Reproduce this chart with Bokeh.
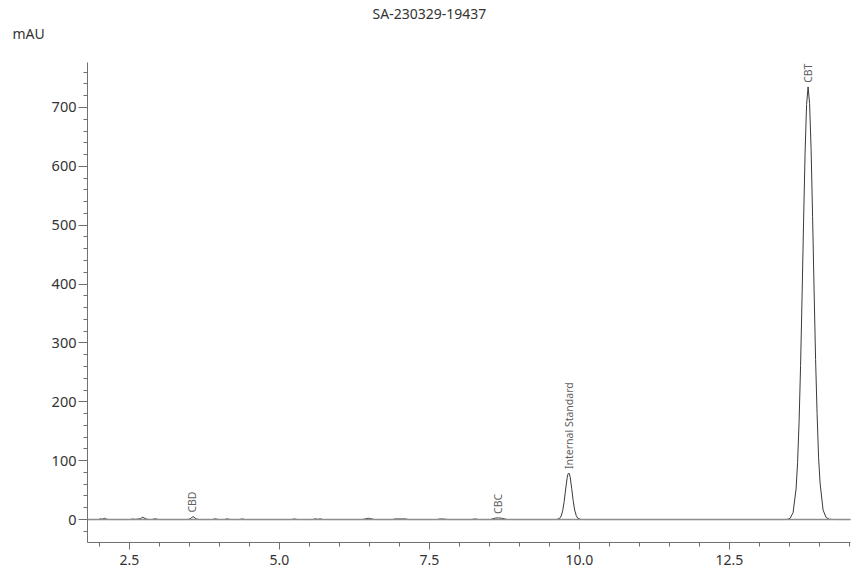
from bokeh.plotting import figure
from bokeh.models import Range1d, SingleIntervalTicker, Span, Title, ColumnDataSource, NumeralTickFormatter
from bokeh.core.properties import value
from bokeh.embed import file_html
from bokeh.resources import INLINE
import math

# ---- data ----
chart_title = "SA-230329-19437"
y_unit = "mAU"

# baseline region with small bumps (min, mAU)
base_time = [1.80, 1.98, 2.02, 2.05, 2.08, 2.11, 2.15, 2.50, 2.56, 2.60, 2.64, 2.68, 2.72, 2.76,
             2.80, 2.86, 2.90, 2.93, 2.96, 3.00, 3.45, 3.50, 3.53, 3.56, 3.59, 3.62, 3.67, 3.88,
             3.93, 3.98, 4.08, 4.13, 4.18, 4.33, 4.38, 4.43, 5.20, 5.25, 5.30, 5.55, 5.60, 5.64,
             5.68, 5.72, 6.38, 6.44, 6.48, 6.52, 6.58, 6.88, 6.93, 7.10, 7.15, 7.62, 7.68, 7.74,
             7.80, 8.20, 8.26, 8.32, 8.52, 8.56, 8.60, 8.65, 8.70, 8.75, 8.80]
base_mau = [0.0, 0.0, 1.2, 0.6, 2.2, 0.8, 0.0, 0.0, 0.8, 0.3, 0.8, 1.5, 4.0, 1.8,
            0.3, 0.0, 0.5, 1.5, 0.4, 0.0, 0.0, 0.6, 2.8, 5.0, 2.8, 0.8, 0.0, 0.0,
            1.2, 0.0, 0.0, 1.2, 0.0, 0.0, 1.0, 0.0, 0.0, 1.0, 0.0, 0.0, 1.2, 0.3,
            1.2, 0.0, 0.0, 1.2, 2.2, 1.5, 0.0, 0.0, 1.0, 1.0, 0.0, 0.0, 1.0, 0.8,
            0.0, 0.0, 1.0, 0.0, 0.0, 1.5, 2.5, 2.8, 2.2, 1.2, 0.0]

# internal standard peak
istd_time = [9.57, 9.62, 9.67, 9.695, 9.72, 9.745, 9.77, 9.795, 9.8075, 9.82, 9.8325, 9.845,
             9.87, 9.895, 9.92, 9.945, 9.97, 10.02, 10.07]
istd_mau = [0.0, 0.1, 1.9, 6.0, 15.0, 31.0, 52.0, 71.0, 77.0, 79.0, 77.5, 72.0,
            53.0, 32.0, 16.0, 7.0, 2.3, 0.2, 0.0]

# CBT peak
cbt_time = [13.40, 13.46, 13.51, 13.56, 13.61, 13.635, 13.66, 13.685, 13.71, 13.735, 13.76,
            13.785, 13.81, 13.835, 13.86, 13.885, 13.91, 13.935, 13.96, 13.985, 14.01,
            14.06, 14.11, 14.16, 14.21, 14.30, 14.52]
cbt_mau = [0.0, 0.2, 1.9, 11.8, 52.0, 97.0, 166.0, 262.0, 380.0, 507.0, 623.0,
           705.0, 735.0, 707.0, 630.0, 515.0, 390.0, 272.0, 180.0, 105.0, 62.0,
           16.0, 3.5, 0.6, 0.1, 0.0, 0.0]

peak_names = ["CBD", "CBC", "Internal Standard", "CBT"]
peak_times = [3.55, 8.65, 9.83, 13.81]
peak_heights = [5.0, 2.8, 79.0, 735.0]

x_start, x_end = 1.80, 14.517
y_start, y_end = -39.0, 776.4
x_tick_step = 2.5
y_tick_step = 100

FONT = "Noto Sans"
W, H = 858, 570
LEFT, RIGHT, BOTTOM = 87, 8, 28

time_all = base_time + istd_time + cbt_time
mau_all = base_mau + istd_mau + cbt_mau

p = figure(width=W, height=H, output_backend="svg", toolbar_location=None,
           x_range=Range1d(x_start, x_end), y_range=Range1d(y_start, y_end),
           min_border_left=LEFT, min_border_right=RIGHT, min_border_top=0,
           min_border_bottom=BOTTOM)
p.outline_line_color = None
p.xgrid.visible = False
p.ygrid.visible = False
p.background_fill_color = "white"
p.border_fill_color = "white"

# spacer nearest the frame, then unit label, then the main title outermost
spacer = Title(text=" ", text_font=FONT, text_font_size="8px", standoff=5)
p.add_layout(spacer, "above")
unit_title = Title(text=y_unit, align="left", offset=-75, text_font=FONT,
                   text_font_size="14px", text_font_style="normal", text_color="#333333",
                   standoff=0, vertical_align="top")
p.add_layout(unit_title, "above")

p.title.text = chart_title
p.title.align = "left"
p.title.offset = 285
p.title.text_font = FONT
p.title.text_font_size = "14px"
p.title.text_font_style = "normal"
p.title.text_color = "#333333"
p.title.standoff = 2
p.title.vertical_align = "bottom"

src = ColumnDataSource(dict(t=time_all, v=mau_all))
p.line("t", "v", source=src, line_color="#3a3a3a", line_width=1.0)

p.add_layout(Span(location=0, dimension="width", line_color="#8e8e8e", line_width=1.4))

lab = ColumnDataSource(dict(x=peak_times, y=peak_heights, name=peak_names))
p.text("x", "y", text="name", source=lab, angle=math.pi / 2, text_align="left",
       text_baseline="middle", y_offset=-4, text_font=value(FONT),
       text_font_size="10.5px", text_color="#606060")

for ax in (p.xaxis[0], p.yaxis[0]):
    ax.axis_line_color = "#707070"
    ax.major_tick_line_color = "#707070"
    ax.minor_tick_line_color = "#707070"
    ax.major_label_text_font = FONT
    ax.major_label_text_color = "#333333"
    ax.major_tick_in = 0
    ax.minor_tick_in = 0

p.xaxis.ticker = SingleIntervalTicker(interval=x_tick_step, num_minor_ticks=5)
p.xaxis.formatter = NumeralTickFormatter(format="0.0")
p.xaxis.major_label_text_font_size = "14px"
p.xaxis.major_tick_out = 7
p.xaxis.minor_tick_out = 4
p.xaxis.major_label_standoff = 5

p.yaxis.ticker = SingleIntervalTicker(interval=y_tick_step, num_minor_ticks=5)
p.yaxis.formatter = NumeralTickFormatter(format="0")
p.yaxis.major_label_text_font_size = "14.5px"
p.yaxis.major_tick_out = 9
p.yaxis.minor_tick_out = 4
p.yaxis.major_label_standoff = 2

open("out.html", "w").write(file_html(p, INLINE))
